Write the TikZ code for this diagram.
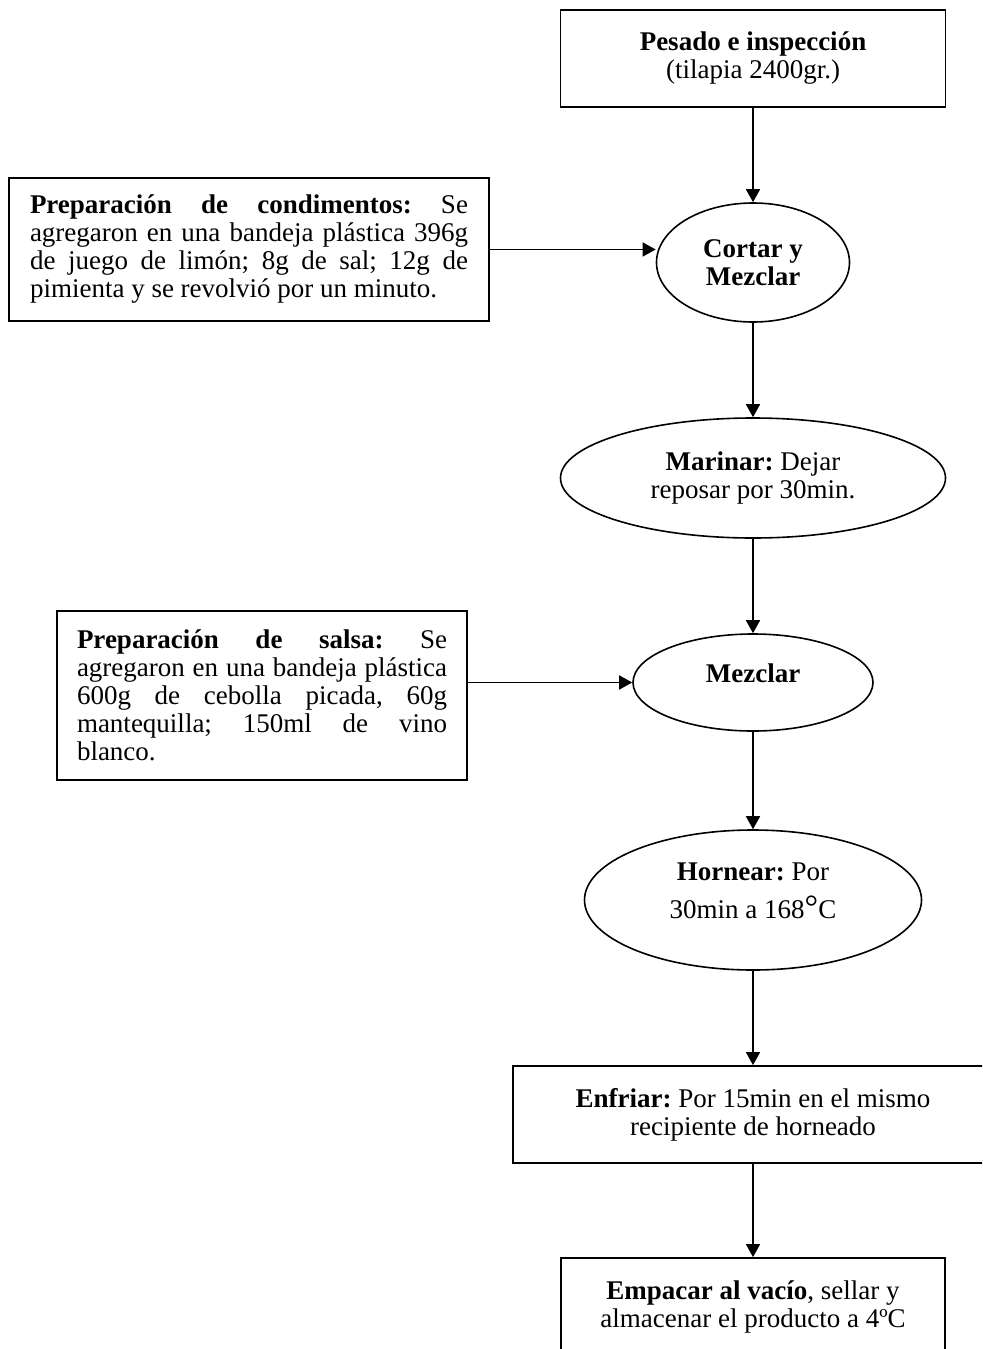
\documentclass[tikz,border=0pt]{standalone}
\usepackage{fontspec}
\setmainfont{Liberation Serif}
\usetikzlibrary{shapes.geometric,arrows.meta}
\frenchspacing

\begin{document}
\begin{tikzpicture}[x=0.5pt,y=-0.5pt,
		every node/.style={font=\fontsize{13.5}{14}\selectfont},
		caja/.style={draw,line width=0.9pt,rectangle,align=center,inner sep=0pt},
		elipse/.style={draw,line width=0.8pt,ellipse,align=center,inner sep=0pt},
		flecha/.style={line width=0.8pt,-{Triangle[length=6.5pt,width=7pt]}}]
					\useasboundingbox (0,0) rectangle (982,1349);
					\clip (0,0) rectangle (982,1349);
					
					% columna central
					\node (pesado) at (753,58.5) [caja,minimum width=192.5pt,minimum height=48.5pt] {\textbf{Pesado e inspección}\\(tilapia 2400gr.)};
					\node (cortar) at (753,262.5) [elipse,minimum width=96.5pt,minimum height=59.5pt,font=\fontsize{13.5}{14}\selectfont\bfseries] {Cortar y\\Mezclar};
					\node (marinar) at (753,478) [elipse,minimum width=192.5pt,minimum height=60pt] {\textbf{Marinar:} Dejar\\reposar por 30min.};
					\node (mezclar) at (753,682.5) [elipse,minimum width=120pt,minimum height=48.5pt,text depth=9pt] {\textbf{Mezclar}};
					\node (hornear) at (753,900) [elipse,minimum width=168.5pt,minimum height=70pt,text depth=9pt] {\textbf{Hornear:} Por\\[5pt]30min a 168{\fontsize{17}{14}\selectfont°}C};
					\node (enfriar) at (753,1114.5) [caja,minimum width=240pt,minimum height=48.5pt] {\textbf{Enfriar:} Por 15min en el mismo\\recipiente de horneado};
					\node (empacar) at (753,1306.5) [caja,minimum width=192pt,minimum height=48.5pt] {\textbf{Empacar al vacío}, sellar y\\almacenar el producto a 4ºC};
					
					% preparaciones
					\node (cond) at (249,249.5) [caja,minimum width=240pt,minimum height=71.5pt,text width=219pt,align=justify] {\textbf{Preparación de condimentos:} Se\linebreak agregaron en una bandeja plástica 396g\linebreak de juego de limón; 8g de sal; 12g de\linebreak pimienta y se revolvió por un minuto.};
					\node (salsa) at (262,695.5) [caja,minimum width=205pt,minimum height=84.5pt,text width=185pt,align=justify] {\textbf{Preparación de salsa:} Se\linebreak agregaron en una bandeja plástica\linebreak 600g de cebolla picada, 60g\linebreak mantequilla; 150ml de vino\linebreak blanco.};
					
					\draw[flecha] (pesado) -- (cortar);
					\draw[flecha] (cortar) -- (marinar);
					\draw[flecha] (marinar) -- (mezclar);
					\draw[flecha] (mezclar) -- (hornear);
					\draw[flecha] (hornear) -- (enfriar);
					\draw[flecha] (enfriar) -- (empacar);
					\draw[flecha] (cond) -- (cond -| cortar.west);
					\draw[flecha] (salsa.east |- mezclar) -- (mezclar.west);
					
				\end{tikzpicture}
\end{document}
